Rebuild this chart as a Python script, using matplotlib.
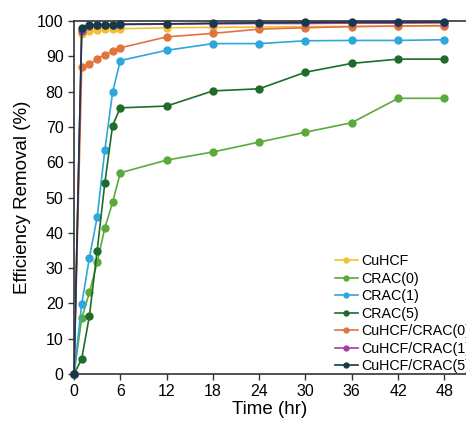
import numpy as np
import matplotlib
matplotlib.use('Agg')
import matplotlib.pyplot as plt

plt.rcParams['font.family'] = ['Liberation Sans', 'DejaVu Sans']

# time points (hr)
t = np.array([0, 1, 2, 3, 4, 5, 6, 12, 18, 24, 30, 36, 42, 48])

cuhcf = [0, 96.2, 97.2, 97.5, 97.7, 97.8, 97.8, 98.1, 98.2, 98.3, 98.4, 98.5, 98.5, 98.6]
crac0 = [0, 15.8, 23.1, 31.6, 41.4, 48.6, 57.0, 60.6, 62.9, 65.7, 68.5, 71.2, 78.1, 78.1]
crac1 = [0, 19.8, 33.0, 44.4, 63.5, 79.8, 88.8, 91.7, 93.6, 93.6, 94.4, 94.5, 94.5, 94.7]
crac5 = [0, 4.3, 16.5, 34.9, 54.2, 70.4, 75.4, 75.9, 80.2, 80.8, 85.5, 88.0, 89.2, 89.2]
cu_crac0 = [0, 86.9, 87.7, 89.3, 90.5, 91.4, 92.4, 95.5, 96.5, 97.7, 98.1, 98.4, 98.6, 98.7]
cu_crac1 = [0, 97.2, 98.6, 98.8, 98.9, 99.0, 99.0, 99.1, 99.2, 99.3, 99.3, 99.4, 99.4, 99.5]
cu_crac5 = [0, 97.9, 98.8, 99.0, 99.0, 99.0, 99.1, 99.2, 99.4, 99.5, 99.6, 99.7, 99.7, 99.7]

labels = ["CuHCF", "CRAC(0)", "CRAC(1)", "CRAC(5)",
          "CuHCF/CRAC(0)", "CuHCF/CRAC(1)", "CuHCF/CRAC(5)"]
series = [cuhcf, crac0, crac1, crac5, cu_crac0, cu_crac1, cu_crac5]
colors = ["#f2c12e", "#5aaa3c", "#2ea7dc", "#1f6b2a", "#e1743c", "#a13fa6", "#17394a"]

fig = plt.figure(figsize=(4.66, 4.22), dpi=100)
ax = fig.add_axes([0.1588, 0.1137, 0.8412, 0.8365])

for y, c, lab in zip(series, colors, labels):
    ax.plot(t, y, '-o', color=c, lw=1.2, ms=5, label=lab, clip_on=False, zorder=3)

ax.set_xlim(0, 50.8)
ax.set_ylim(0, 100)
ax.set_xticks(np.arange(0, 49, 6))
ax.set_yticks(np.arange(0, 101, 10))
ax.tick_params(direction='out', length=4, width=1, labelsize=11.5, colors='#333333', labelcolor='black')
ax.spines['right'].set_visible(False)
for s in ['left', 'bottom', 'top']:
    ax.spines[s].set_color('#333333')
    ax.spines[s].set_linewidth(1.2)

ax.set_xlabel("Time (hr)", fontsize=13.5, labelpad=1)
ax.set_ylabel("Efficiency Removal (%)", fontsize=13.5, labelpad=4)

# legend runs past the right edge, as in the source figure
leg = ax.legend(loc='upper left', bbox_to_anchor=(335 / 466, 1 - 254 / 422),
                bbox_transform=fig.transFigure, frameon=False, fontsize=10.3,
                handlelength=1.6, handletextpad=0.2, labelspacing=0.25,
                markerscale=0.7, borderaxespad=0, borderpad=0)

fig.savefig("out.png", dpi=100)
